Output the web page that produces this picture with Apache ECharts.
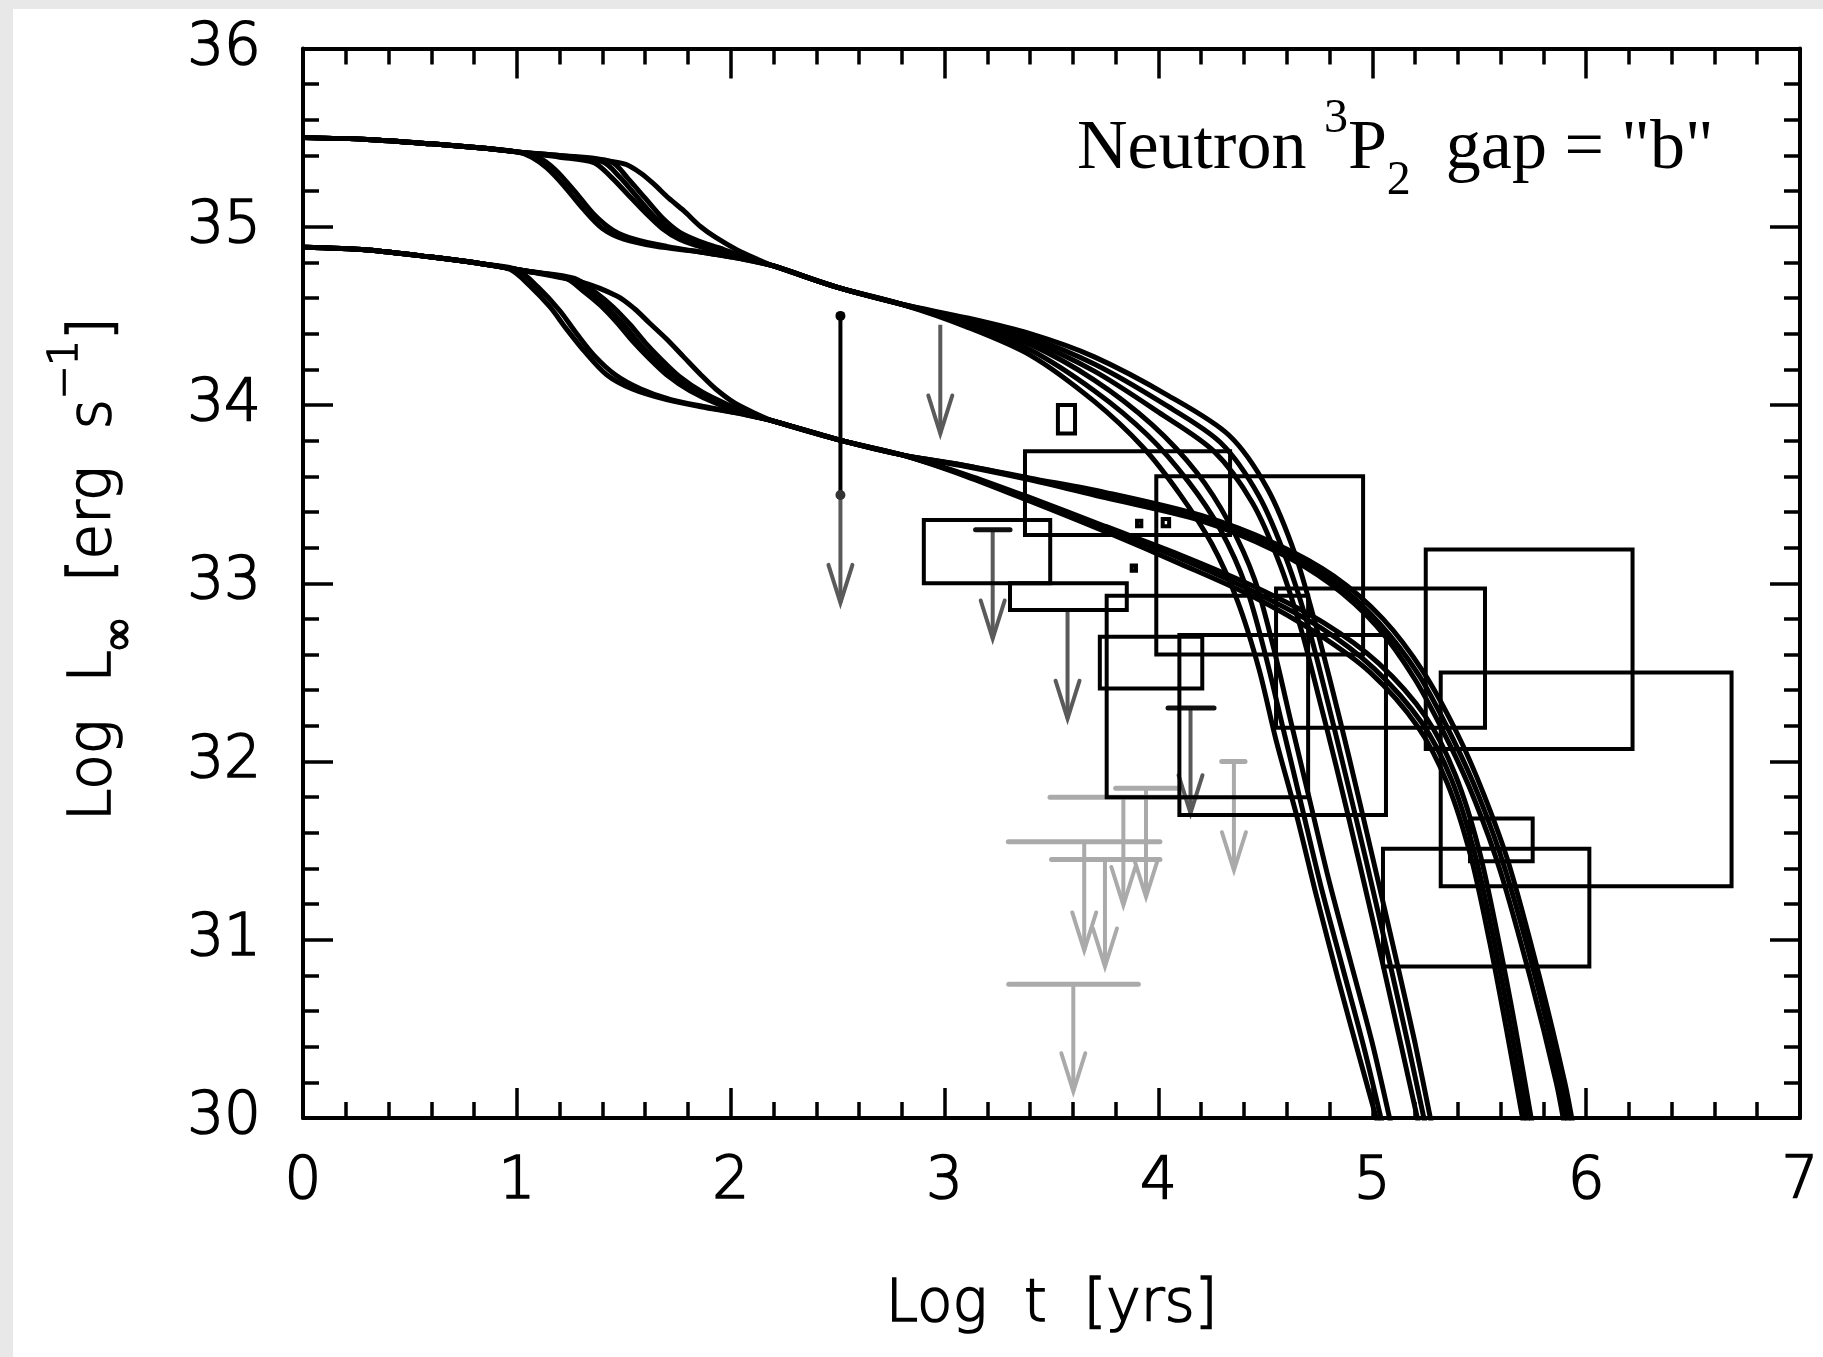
<!DOCTYPE html>
<html>
<head>
<meta charset="utf-8">
<script src="https://cdn.jsdelivr.net/npm/echarts@6/dist/echarts.min.js"></script>
<style>
  html, body { margin: 0; padding: 0; background: #e8e8e8; }
  #chart { position: absolute; left: 13px; top: 9px; width: 1810px; height: 1348px; background: #fff; }
</style>
</head>
<body>
<div id="chart"></div>
<script>
// cooling curves, log t [yrs] vs log L [erg/s]
// upper family (light envelope)
const upHead = [[0, 35.50], [0.3, 35.49], [0.6, 35.465], [0.85, 35.44], [1.0, 35.42]]
const upStepA = [[1.07, 35.39], [1.14, 35.33], [1.22, 35.23], [1.31, 35.10], [1.4, 34.99], [1.5, 34.93], [1.65, 34.89], [1.85, 34.86], [2.05, 34.82]]
const upStepB = [[1.1, 35.39], [1.18, 35.32], [1.27, 35.2], [1.36, 35.07], [1.45, 34.98], [1.55, 34.93], [1.7, 34.89], [1.9, 34.85], [2.05, 34.82]]
const upStepC = [[1.2, 35.39], [1.36, 35.36], [1.44, 35.28], [1.52, 35.18], [1.6, 35.08], [1.68, 34.99], [1.76, 34.93], [1.88, 34.88], [2.05, 34.83]]
const upStepD = [[1.2, 35.395], [1.4, 35.365], [1.48, 35.28], [1.56, 35.17], [1.64, 35.06], [1.72, 34.98], [1.8, 34.93], [1.92, 34.88], [2.05, 34.83]]
const upStepE = [[1.2, 35.4], [1.44, 35.365], [1.52, 35.27], [1.6, 35.16], [1.68, 35.05], [1.76, 34.97], [1.85, 34.92], [1.95, 34.88], [2.05, 34.835]]
const upStepF = [[1.2, 35.4], [1.39, 35.375], [1.51, 35.35], [1.58, 35.3], [1.64, 35.24], [1.71, 35.16], [1.78, 35.09], [1.86, 35.0], [1.93, 34.94], [2.03, 34.87], [2.12, 34.82]]
const upMid = [[2.2, 34.78], [2.5, 34.66], [2.8, 34.565]]
const upTailFast1 = [[3.1, 34.455], [3.4, 34.31], [3.7, 34.08], [3.95, 33.83], [4.14, 33.57], [4.29, 33.3], [4.41, 32.98], [4.5, 32.6], [4.58, 32.2], [4.67, 31.75], [4.76, 31.3], [4.86, 30.85], [4.96, 30.4], [5.05, 29.95]]
const upTailFast2 = [[3.1, 34.44], [3.4, 34.28], [3.7, 34.02], [3.93, 33.76], [4.1, 33.5], [4.25, 33.22], [4.37, 32.9], [4.47, 32.52], [4.55, 32.12], [4.65, 31.68], [4.74, 31.24], [4.84, 30.78], [4.94, 30.34], [5.03, 29.95]]
const upTailFast3 = [[3.1, 34.465], [3.4, 34.34], [3.7, 34.14], [3.97, 33.89], [4.18, 33.62], [4.33, 33.34], [4.45, 33.02], [4.54, 32.63], [4.62, 32.22], [4.71, 31.77], [4.8, 31.32], [4.9, 30.87], [5.0, 30.42], [5.09, 29.95]]
const upTailSlow1 = [[3.1, 34.48], [3.4, 34.38], [3.7, 34.23], [4.02, 34.01], [4.29, 33.79], [4.47, 33.49], [4.6, 33.13], [4.7, 32.76], [4.78, 32.39], [4.86, 32.0], [4.97, 31.45], [5.08, 30.88], [5.17, 30.4], [5.25, 29.95]]
const upTailSlow2 = [[3.1, 34.49], [3.4, 34.4], [3.7, 34.27], [4.05, 34.05], [4.33, 33.83], [4.51, 33.53], [4.64, 33.16], [4.73, 32.79], [4.81, 32.42], [4.89, 32.03], [5.0, 31.47], [5.11, 30.9], [5.2, 30.42], [5.28, 29.95]]
const upTailSlow3 = [[3.1, 34.47], [3.4, 34.36], [3.7, 34.19], [4.0, 33.96], [4.26, 33.74], [4.44, 33.45], [4.57, 33.1], [4.67, 32.73], [4.75, 32.36], [4.83, 31.98], [4.94, 31.43], [5.05, 30.86], [5.14, 30.38], [5.22, 29.95]]

// lower family (heavy envelope)
const dnHead = [[0, 34.885], [0.3, 34.87], [0.6, 34.83], [0.85, 34.79]]
const dnStepA = [[0.97, 34.76], [1.06, 34.67], [1.155, 34.55], [1.23, 34.43], [1.31, 34.31], [1.42, 34.17], [1.54, 34.09], [1.7, 34.03], [1.86, 33.99], [2.05, 33.95]]
const dnStepB = [[1.0, 34.76], [1.1, 34.66], [1.2, 34.53], [1.28, 34.4], [1.36, 34.28], [1.46, 34.17], [1.58, 34.09], [1.72, 34.03], [1.88, 33.99], [2.05, 33.95]]
const dnStepC = [[1.05, 34.75], [1.23, 34.71], [1.31, 34.64], [1.39, 34.56], [1.47, 34.46], [1.54, 34.36], [1.62, 34.26], [1.70, 34.17], [1.81, 34.08], [1.95, 34.0], [2.1, 33.94]]
const dnStepD = [[1.05, 34.75], [1.25, 34.71], [1.34, 34.63], [1.42, 34.55], [1.5, 34.45], [1.57, 34.35], [1.65, 34.25], [1.73, 34.16], [1.84, 34.07], [1.97, 34.0], [2.1, 33.94]]
const dnStepE = [[1.05, 34.75], [1.27, 34.71], [1.37, 34.63], [1.45, 34.55], [1.53, 34.45], [1.6, 34.35], [1.68, 34.25], [1.76, 34.16], [1.87, 34.07], [1.99, 34.0], [2.1, 33.945]]
const dnStepF = [[1.05, 34.75], [1.3, 34.69], [1.47, 34.61], [1.55, 34.54], [1.62, 34.46], [1.7, 34.37], [1.78, 34.27], [1.86, 34.17], [1.93, 34.09], [2.02, 34.01], [2.12, 33.95]]
const dnMid = [[2.2, 33.91], [2.52, 33.8], [2.8, 33.72]]
const dnTailA1 = [[3.1, 33.66], [3.4, 33.59], [3.75, 33.51], [4.2, 33.38], [4.55, 33.22], [4.82, 33.04], [5.05, 32.8], [5.24, 32.5], [5.4, 32.15], [5.52, 31.82], [5.64, 31.42], [5.78, 30.8], [5.9, 30.2], [5.94, 29.95]]
const dnTailA2 = [[3.1, 33.655], [3.4, 33.58], [3.75, 33.48], [4.2, 33.35], [4.55, 33.18], [4.8, 33.0], [5.02, 32.76], [5.2, 32.46], [5.36, 32.1], [5.48, 31.78], [5.6, 31.38], [5.74, 30.78], [5.86, 30.2], [5.9, 29.95]]
const dnTailA3 = [[3.1, 33.66], [3.4, 33.585], [3.75, 33.49], [4.2, 33.36], [4.55, 33.2], [4.81, 33.02], [5.03, 32.78], [5.22, 32.48], [5.38, 32.12], [5.5, 31.8], [5.62, 31.4], [5.76, 30.8], [5.88, 30.2], [5.92, 29.95]]
const dnTailB1 = [[3.1, 33.61], [3.4, 33.48], [3.75, 33.32], [4.1, 33.16], [4.45, 32.98], [4.77, 32.78], [5.03, 32.55], [5.25, 32.25], [5.39, 31.92], [5.5, 31.5], [5.59, 31.0], [5.67, 30.5], [5.75, 29.95]]
const dnTailB2 = [[3.1, 33.6], [3.4, 33.46], [3.75, 33.29], [4.1, 33.11], [4.45, 32.92], [4.74, 32.72], [4.99, 32.5], [5.21, 32.2], [5.35, 31.88], [5.46, 31.47], [5.55, 30.98], [5.63, 30.48], [5.71, 29.95]]
const dnTailB3 = [[3.1, 33.605], [3.4, 33.47], [3.75, 33.31], [4.1, 33.14], [4.45, 32.95], [4.76, 32.75], [5.01, 32.52], [5.23, 32.22], [5.37, 31.9], [5.48, 31.48], [5.57, 30.99], [5.65, 30.49], [5.73, 29.95]]

const curveParts = [
  [upHead, upStepA, upMid, upTailFast1],
  [upHead, upStepB, upMid, upTailSlow1],
  [upHead, upStepC, upMid, upTailFast2],
  [upHead, upStepD, upMid, upTailSlow2],
  [upHead, upStepE, upMid, upTailFast3],
  [upHead, upStepF, upMid, upTailSlow3],
  [dnHead, dnStepA, dnMid, dnTailB1],
  [dnHead, dnStepB, dnMid, dnTailA1],
  [dnHead, dnStepC, dnMid, dnTailB2],
  [dnHead, dnStepD, dnMid, dnTailA2],
  [dnHead, dnStepE, dnMid, dnTailB3],
  [dnHead, dnStepF, dnMid, dnTailA3]
]

// observed sources: error boxes [tMin, tMax, LMin, LMax]
const boxes = [
  [3.53, 3.61, 33.84, 34.00],
  [3.376, 4.335, 33.27, 33.74],
  [2.903, 3.494, 33.00, 33.355],
  [3.306, 3.852, 32.85, 33.00],
  [3.99, 4.957, 32.60, 33.60],
  [3.726, 4.205, 32.41, 32.70],
  [3.758, 4.70, 31.80, 32.93],
  [4.098, 5.064, 31.70, 32.71],
  [4.55, 5.527, 32.19, 32.97],
  [5.25, 6.217, 32.07, 33.19],
  [5.32, 6.68, 31.30, 32.50],
  [5.457, 5.75, 31.44, 31.68],
  [5.05, 6.015, 30.85, 31.51],
  [3.90, 3.92, 33.32, 33.35],
  [4.02, 4.05, 33.32, 33.36],
  [3.875, 3.895, 33.07, 33.10]
]
// error bar [t, LMin, LMax]
const errBars = [[2.513, 33.495, 34.50]]
// upper limits [t, Lfrom, Ltip, barMin, barMax]
const darkLimits = [
  [2.513, 33.50, 32.89, null, null],
  [2.98, 34.45, 33.84, null, null],
  [3.225, 33.30, 32.69, 3.145, 3.306],
  [3.575, 32.85, 32.24, null, null],
  [4.15, 32.30, 31.71, 4.045, 4.26]
]
const lightLimits = [
  [4.353, 32.00, 31.39, 4.296, 4.405],
  [3.836, 31.80, 31.195, 3.493, 4.18],
  [3.942, 31.85, 31.24, 3.80, 4.09],
  [3.653, 31.55, 30.94, 3.298, 4.007],
  [3.75, 31.45, 30.85, 3.50, 4.007],
  [3.602, 30.75, 30.15, 3.30, 3.906]
]

const FONT = 'DejaVu Sans'
const ink = '#000'

function boxItem(params, api) {
  const a = api.coord([api.value(0), api.value(3)])
  const b = api.coord([api.value(1), api.value(2)])
  return {
    type: 'rect',
    shape: { x: a[0], y: a[1], width: b[0] - a[0], height: b[1] - a[1] },
    style: { fill: null, stroke: ink, lineWidth: 4, lineJoin: 'miter' }
  }
}

function errItem(params, api) {
  const t = api.value(0)
  const lo = api.coord([t, api.value(1)])
  const hi = api.coord([t, api.value(2)])
  return {
    type: 'group',
    children: [
      { type: 'line', shape: { x1: lo[0], y1: lo[1], x2: hi[0], y2: hi[1] }, style: { stroke: ink, lineWidth: 4 } },
      { type: 'circle', shape: { cx: lo[0], cy: lo[1], r: 5 }, style: { fill: '#333' } },
      { type: 'circle', shape: { cx: hi[0], cy: hi[1], r: 5 }, style: { fill: ink } }
    ]
  }
}

function limitItem(color, barColor) {
  return function (params, api) {
    const t = api.value(0)
    const from = api.coord([t, api.value(1)])
    const tip = api.coord([t, api.value(2)])
    const kids = [
      { type: 'line', shape: { x1: from[0], y1: from[1], x2: tip[0], y2: tip[1] }, style: { stroke: color, lineWidth: 4 } },
      {
        type: 'polyline',
        shape: { points: [[tip[0] - 12, tip[1] - 38], [tip[0], tip[1]], [tip[0] + 12, tip[1] - 38]] },
        style: { stroke: color, lineWidth: 4, fill: null, lineCap: 'round' }
      }
    ]
    const b0 = api.value(3)
    if (b0 != null && !isNaN(b0)) {
      const p = api.coord([b0, api.value(1)])
      const q = api.coord([api.value(4), api.value(1)])
      kids.push({ type: 'line', shape: { x1: p[0], y1: p[1], x2: q[0], y2: q[1] }, style: { stroke: barColor, lineWidth: 5, lineCap: 'round' } })
    }
    return { type: 'group', children: kids }
  }
}

const tickCommon = {
  axisLine: { onZero: false, lineStyle: { color: ink, width: 4 } },
  axisTick: { inside: true, length: 30, lineStyle: { color: ink, width: 3.5 } },
  minorTick: { show: true, splitNumber: 5, length: 16, lineStyle: { color: ink, width: 3.5 } },
  splitLine: { show: false }
}
// thin stroke font thickened a little with an outline
const labelStyle = {
  color: ink, fontFamily: FONT, fontSize: 58, fontWeight: 200,
  textBorderColor: ink, textBorderWidth: 1.6
}

const chart = echarts.init(document.getElementById('chart'))
chart.setOption({
  animation: false,
  backgroundColor: '#fff',
  grid: { left: 290, right: 23, top: 39.5, bottom: 239 },
  xAxis: [
    {
      type: 'value', min: 0, max: 7, interval: 1, position: 'bottom', ...tickCommon,
      axisLabel: { ...labelStyle, margin: 36 },
      name: 'Log  t  [yrs]', nameLocation: 'middle', nameGap: 159,
      nameTextStyle: { ...labelStyle }
    },
    {
      type: 'value', min: 0, max: 7, interval: 1, position: 'top', ...tickCommon,
      axisLabel: { show: false }
    }
  ],
  yAxis: [
    {
      type: 'value', min: 30, max: 36, interval: 1, position: 'left', ...tickCommon,
      axisLabel: { ...labelStyle, margin: 42 },
      name: '{a0|Log  L}{sub|∞}{a|  [erg  s}{sup|−1}{a|]}',
      nameLocation: 'middle', nameRotate: 90, nameGap: 160,
      nameTextStyle: {
        rich: {
          a0: { ...labelStyle, lineHeight: 96, padding: [0, 0, 0, 28] },
          a: { ...labelStyle, lineHeight: 96 },
          sub: { ...labelStyle, fontSize: 44, lineHeight: 40, verticalAlign: 'bottom' },
          sup: { ...labelStyle, fontSize: 40, lineHeight: 40, verticalAlign: 'top' }
        }
      }
    },
    {
      type: 'value', min: 30, max: 36, interval: 1, position: 'right', ...tickCommon,
      axisLabel: { show: false }
    }
  ],
  graphic: [
    {
      type: 'text', left: 1064, top: 86,
      style: {
        text: '{a|Neutron }{s|3}{a|P}{b|2}{a|  gap = "b"}',
        rich: {
          a: { fontFamily: 'Liberation Serif', fontSize: 70, lineHeight: 110, fill: ink },
          s: { fontFamily: 'Liberation Serif', fontSize: 48, lineHeight: 44, verticalAlign: 'top', fill: ink },
          b: { fontFamily: 'Liberation Serif', fontSize: 48, lineHeight: 44, verticalAlign: 'bottom', fill: ink }
        }
      }
    }
  ],
  series: [
    { type: 'custom', name: 'light limits', renderItem: limitItem('#aaaaaa', '#aaaaaa'), data: lightLimits, encode: { x: 0, y: [1, 2] }, z: 1, silent: true },
    { type: 'custom', name: 'dark limits', renderItem: limitItem('#5a5a5a', '#111'), data: darkLimits, encode: { x: 0, y: [1, 2] }, z: 2, silent: true },
    { type: 'custom', name: 'boxes', renderItem: boxItem, data: boxes, encode: { x: [0, 1], y: [2, 3] }, z: 3, silent: true },
    { type: 'custom', name: 'error bar', renderItem: errItem, data: errBars, encode: { x: 0, y: [1, 2] }, z: 4, silent: true },
    ...curveParts.map((parts, i) => ({
      type: 'line', name: 'curve' + i, data: [].concat(...parts),
      showSymbol: false, symbol: 'none', smooth: 0.3, clip: true, z: 5, silent: true,
      lineStyle: { color: ink, width: 5 }
    }))
  ]
})
</script>
</body>
</html>
